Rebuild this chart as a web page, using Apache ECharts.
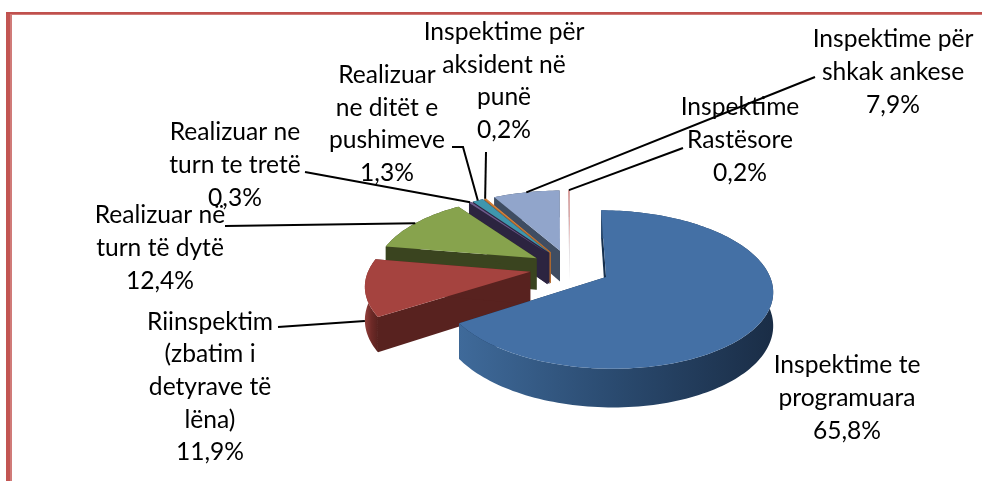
<!DOCTYPE html>
<html>
<head>
<meta charset="utf-8">
<style>html,body{margin:0;padding:0;background:#fff}#c{width:982px;height:481px}</style>
<script src="https://cdn.jsdelivr.net/npm/echarts@6/dist/echarts.min.js"></script>
</head>
<body>
<div id="c"></div>
<script>
// ---- data ----
const categories = [
  'Inspektime te\nprogramuara',
  'Riinspektim\n(zbatim i\ndetyrave të\nlëna)',
  'Realizuar në\nturn të dytë',
  'Realizuar ne\nturn te tretë',
  'Realizuar\nne ditët e\npushimeve',
  'Inspektime për\naksident në\npunë',
  'Inspektime për\nshkak ankese',
  'Inspektime\nRastësore'
];
const shares = [65.8, 11.9, 12.4, 0.3, 1.3, 0.2, 7.9, 0.2];

// ---- styles ----
const topColors  = ['#4470a5', '#a5433f', '#87a34d', '#6f5a8c', '#3f96ad', '#d9843c', '#91a5cb', '#d99694'];
const radialWall = ['#16304e', '#58221f', '#3a441f', '#2c2440', '#2c2440', '#b0692e', '#3f4d62', '#dcd8dc'];
const rimWall = [
  ['#3f6a9a', '#2a4a6f', '#1a2d46'],
  ['#93403c', '#6e2a27', '#58221f'],
  ['#3a441f', '#3a441f', '#3a441f'],
  ['#2c2440', '#2c2440', '#2c2440'],
  ['#2c2440', '#2c2440', '#2c2440'],
  ['#b0692e', '#b0692e', '#b0692e'],
  ['#3f4d62', '#3f4d62', '#3f4d62'],
  ['#dcd8dc', '#dcd8dc', '#dcd8dc']
];
const drawOrder = [7, 6, 5, 4, 3, 2, 1, 0];

// ---- pie projection (tilted, perspective, exploded) ----
const view = { cx: 570, cy: 268, a: 161, b: 74.4, p: 0.155, explode: 0.25, depth: 32 };
const FONT = 'Lato, "Open Sans", sans-serif';
const FONT_SIZE = 24.6;
const LINE_HEIGHT = 32.6;

// ---- label and leader layout, by slice index ----
const labelPos = [[847, 398], [210, 387], [160, 248], [235, 165], [387, 124], [504, 81], [893, 72], [740, 140]];
const leaderStart = [null, [[278, 327]], [[225, 226]], [[305, 172]], [[452, 147], [463, 147]], [[486, 152]], [[815, 77]], [[683, 148]]];
const leaderDrop = [0, 1, 0, 0, 0, 0, 0, 0];

function project(X, Y, drop) {
  const w = 1 - view.p * Y;
  return [view.cx + view.a * X / w, view.cy + (view.b * Y + (drop || 0) * view.depth) / w];
}
const total = shares.reduce((s, v) => s + v, 0);
const spans = [];
shares.reduce((acc, v) => {
  const s = acc / total * 2 * Math.PI, e = (acc + v) / total * 2 * Math.PI;
  spans.push([s, e]);
  return acc + v;
}, 0);
function apex(i) {
  const m = (spans[i][0] + spans[i][1]) / 2;
  return [view.explode * Math.sin(m), -view.explode * Math.cos(m)];
}
function rim(i, t) {
  const o = apex(i);
  return [o[0] + Math.sin(t), o[1] - Math.cos(t)];
}
function rimSamples(i) {
  const s = spans[i][0], e = spans[i][1];
  const n = Math.max(3, Math.ceil((e - s) / (Math.PI / 120)));
  const out = [];
  for (let k = 0; k <= n; k++) out.push(rim(i, s + (e - s) * k / n));
  return out;
}
function poly(points, fill) {
  return { type: 'polygon', shape: { points: points }, style: { fill: fill, stroke: null } };
}
function wedgeItem(params, api) {
  const i = api.value(0);
  api.value(1);
  const pts = rimSamples(i);
  const o = apex(i);
  const top = pts.map(q => project(q[0], q[1], 0));
  const low = pts.map(q => project(q[0], q[1], 1));
  const A0 = project(o[0], o[1], 0), A1 = project(o[0], o[1], 1);
  const grad = rimWall[i];
  const children = [
    poly([A0, A1, low[0], top[0]], radialWall[i]),
    poly([A0, A1, low[low.length - 1], top[top.length - 1]], radialWall[i]),
    poly(top.concat(low.slice().reverse()), {
      type: 'linear', x: 0, y: 0, x2: 1, y2: 0,
      colorStops: [{ offset: 0, color: grad[0] }, { offset: 0.5, color: grad[1] }, { offset: 1, color: grad[2] }]
    }),
    poly([A0].concat(top), topColors[i])
  ];
  return { type: 'group', children: children };
}
function leaderItem(params, api) {
  const i = api.value(0);
  if (!leaderStart[i]) return null;
  const m = (spans[i][0] + spans[i][1]) / 2;
  const q = rim(i, m);
  const end = project(q[0], q[1], leaderDrop[i]);
  return {
    type: 'polyline',
    shape: { points: leaderStart[i].concat([end]) },
    style: { stroke: '#000', lineWidth: 2, fill: null }
  };
}
function labelItem(params, api) {
  const i = api.value(0);
  const pct = String(api.value(1).toFixed(1)).replace('.', ',') + '%';
  return {
    type: 'text',
    x: labelPos[i][0], y: labelPos[i][1],
    style: {
      text: categories[i] + '\n' + pct,
      fontFamily: FONT, fontSize: FONT_SIZE, lineHeight: LINE_HEIGHT,
      fill: '#000', align: 'center', verticalAlign: 'middle'
    }
  };
}
const chart = echarts.init(document.getElementById('c'), null, { renderer: 'canvas' });
const rows = shares.map((v, i) => [i, v]);
chart.setOption({
  animation: false,
  backgroundColor: '#fff',
  graphic: [
    { type: 'rect', shape: { x: 6, y: 12, width: 976, height: 2 }, style: { fill: '#c0504d' }, silent: true },
    { type: 'rect', shape: { x: 12, y: 14, width: 970, height: 1 }, style: { fill: '#d07b78' }, silent: true },
    { type: 'rect', shape: { x: 6, y: 14, width: 4, height: 467 }, style: { fill: '#c25552' }, silent: true },
    { type: 'rect', shape: { x: 10, y: 14, width: 2, height: 467 }, style: { fill: '#d07b78' }, silent: true }
  ],
  series: [
    { type: 'custom', name: 'Inspektime', coordinateSystem: 'none', silent: true, z: 2, renderItem: wedgeItem,
      data: drawOrder.map(i => rows[i]) },
    { type: 'custom', coordinateSystem: 'none', silent: true, z: 3, renderItem: leaderItem, data: rows },
    { type: 'custom', coordinateSystem: 'none', silent: true, z: 4, renderItem: labelItem, data: rows }
  ]
});
</script>
</body>
</html>
